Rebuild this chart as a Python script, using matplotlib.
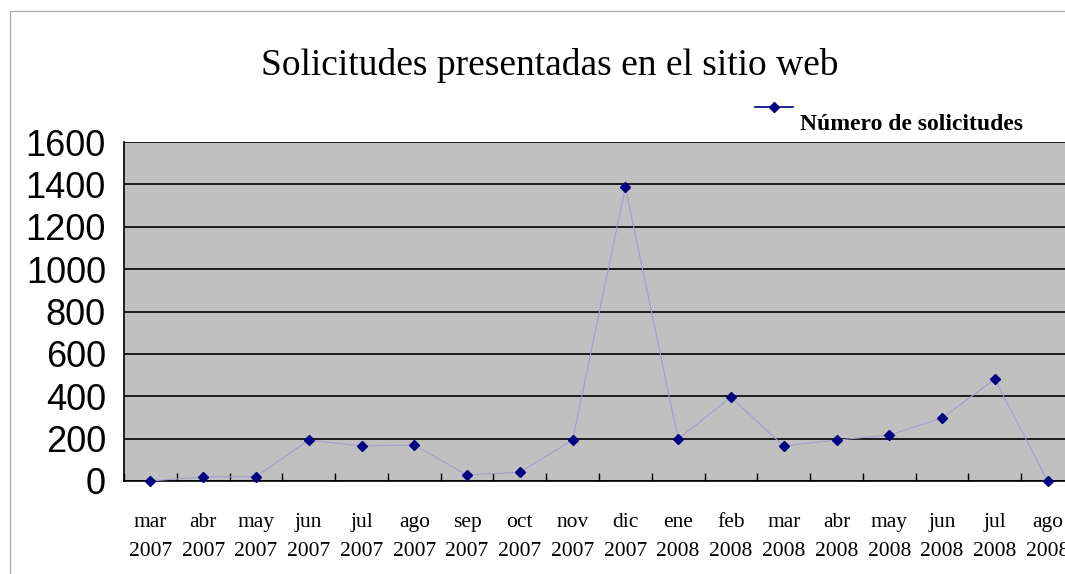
import matplotlib
matplotlib.use('Agg')
import matplotlib.pyplot as plt
import matplotlib.patches as mpatches
from matplotlib.lines import Line2D
import numpy as np

meses = ['mar\n2007', 'abr\n2007', 'may\n2007', 'jun\n2007', 'jul\n2007', 'ago\n2007',
         'sep\n2007', 'oct\n2007', 'nov\n2007', 'dic\n2007', 'ene\n2008', 'feb\n2008',
         'mar\n2008', 'abr\n2008', 'may\n2008', 'jun\n2008', 'jul\n2008', 'ago\n2008']
solicitudes = [0, 20, 20, 193, 165, 170, 28, 42, 193, 1387, 198, 396, 165, 193, 217, 297, 481, 0]
yticks = [0, 200, 400, 600, 800, 1000, 1200, 1400, 1600]

W, H = 1065, 574
fig = plt.figure(figsize=(W/100, H/100), dpi=100)
fig.patch.set_facecolor('white')

# marco del grafico (se sale por la derecha y abajo)
fig.patches.append(mpatches.Rectangle((10/W, -0.1), 1.2, 1 - 11/H + 0.1, transform=fig.transFigure,
                                      fill=False, edgecolor='#B0B0B0', lw=1))

# area de trazado, se extiende mas alla del borde derecho
left, right, top, bottom = 124, 1074, 142, 481
ax = fig.add_axes([left/W, 1 - bottom/H, (right-left)/W, (bottom-top)/H])
ax.set_facecolor('#C0C0C0')

x = np.arange(len(solicitudes))
ax.plot(x, solicitudes, color='#A0A0D0', lw=0.8, zorder=3)
ax.plot(x, solicitudes, ls='none', marker='D', ms=5.5, color='#000080', zorder=4, clip_on=False)

ax.set_xlim(-0.5, len(solicitudes) - 0.5)
ax.set_ylim(0, 1600)
ax.set_yticks(yticks)
ax.set_yticklabels([str(v) for v in yticks], fontsize=26, family='Liberation Sans')
ax.yaxis.grid(True, color='black', lw=1.2)
ax.set_axisbelow(True)
ax.tick_params(axis='y', length=0, pad=13)

ax.set_xticks(np.arange(len(meses)) - 0.5, minor=False)
ax.set_xticklabels([])
ax.tick_params(axis='x', which='major', direction='in', length=6, width=1, color='black')
ax.set_xticks(x, minor=True)
ax.set_xticklabels(meses, minor=True, fontsize=15.5, family='Liberation Serif', linespacing=1.75)
ax.tick_params(axis='x', which='minor', length=0, pad=23)

for s in ['top', 'right']:
    ax.spines[s].set_visible(False)
ax.spines['left'].set_linewidth(1.2)
ax.spines['bottom'].set_linewidth(1.2)

fig.text(550/W, 1 - 66/H, 'Solicitudes presentadas en el sitio web', ha='center', va='center',
         fontsize=27, family='Liberation Serif')

# leyenda al estilo de Excel: simbolo arriba, texto debajo
fig.add_artist(Line2D([755/W, 793/W], [1 - 107/H, 1 - 107/H], transform=fig.transFigure,
                      color='#000080', lw=1.2))
fig.add_artist(Line2D([774/W], [1 - 107/H], transform=fig.transFigure,
                      color='#000080', marker='D', ms=5, ls='none'))
fig.text(800/W, 1 - 124/H, 'Número de solicitudes', ha='left', va='center',
         fontsize=17, weight='bold', family='Liberation Serif')

fig.savefig('out.png', dpi=100)
